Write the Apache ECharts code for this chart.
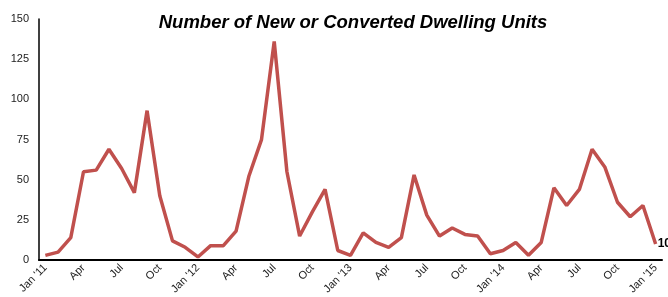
<!DOCTYPE html>
<html><head><meta charset="utf-8">
<script src="https://cdn.jsdelivr.net/npm/echarts@6/dist/echarts.min.js"></script>
<style>html,body{margin:0;padding:0;background:#fff}#c{width:668px;height:297px}</style>
</head><body><div id="c"></div>
<script>
const months = ["Jan","Feb","Mar","Apr","May","Jun","Jul","Aug","Sep","Oct","Nov","Dec"];
const years = ["11","12","13","14","15"];
const categories = [];
years.forEach((y, yi) => months.forEach((m, mi) => {
  if (yi < 4 || mi === 0) categories.push(mi === 0 ? "Jan '" + y : m);
}));
const units = [3,5,14,55,56,69,57,42,93,40,12,8,
               2,9,9,18,52,75,136,55,15,30,44,6,
               3,17,11,8,14,53,28,15,20,16,15,4,
               6,11,3,11,45,34,44,69,58,36,27,34,
               10];
const yTicks = [0,25,50,75,100,125,150];
const title = "Number of New or Converted Dwelling Units";

const chart = echarts.init(document.getElementById('c'), null, {renderer:'canvas'});
chart.setOption({
  animation:false,
  title:{text:title,left:348,textAlign:'center',top:8,
    textStyle:{fontFamily:'Liberation Sans',fontStyle:'italic',fontWeight:'bold',fontSize:18.5,color:'#000'}},
  grid:{left:39,right:6,top:19,bottom:35,containLabel:false},
  xAxis:{type:'category',data:categories,boundaryGap:true,
    axisLine:{lineStyle:{color:'#000',width:2}},
    axisTick:{show:false},
    axisLabel:{interval:2,rotate:45,fontFamily:'Liberation Sans',fontSize:11,color:'#222',margin:6}},
  yAxis:{type:'value',min:0,max:150,interval:25,
    axisLine:{show:true,lineStyle:{color:'#000',width:1.5}},
    axisTick:{show:false},splitLine:{show:false},
    axisLabel:{fontFamily:'Liberation Sans',fontSize:11,color:'#222',margin:10,
      formatter:v => yTicks.includes(v) ? String(v) : ''}},
  series:[{type:'line',data:units,symbol:'none',
    lineStyle:{color:'#c0504d',width:3.5},
    endLabel:{show:true,fontFamily:'Liberation Sans',fontWeight:'bold',fontSize:12,color:'#000',distance:2}}]
});
</script></body></html>
